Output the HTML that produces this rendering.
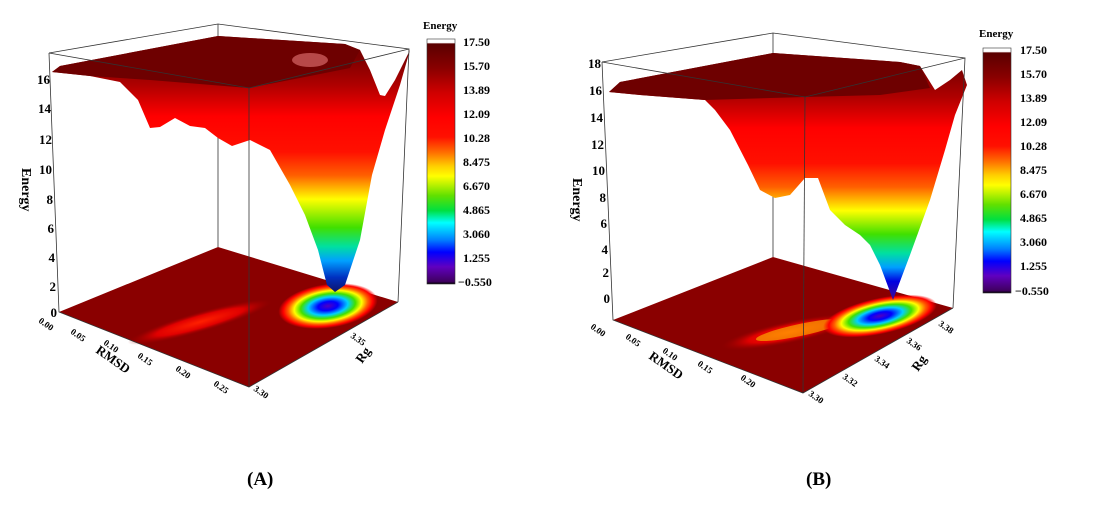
<!DOCTYPE html>
<html><head><meta charset="utf-8"><style>
html,body{margin:0;padding:0;background:#fff;}
svg{display:block;font-family:"Liberation Serif",serif;font-weight:bold;}
</style></head><body>
<svg width="1115" height="512" viewBox="0 0 1115 512" xmlns="http://www.w3.org/2000/svg">
<defs>
<linearGradient id="cb" x1="0" y1="0" x2="0" y2="1">
<stop offset="0" stop-color="#ffffff"/><stop offset="0.015" stop-color="#ffffff"/>
<stop offset="0.02" stop-color="#5a0000"/><stop offset="0.12" stop-color="#8a0000"/>
<stop offset="0.22" stop-color="#d00000"/><stop offset="0.32" stop-color="#ff0000"/>
<stop offset="0.4" stop-color="#ff1000"/><stop offset="0.46" stop-color="#ff6a00"/>
<stop offset="0.52" stop-color="#ffd000"/><stop offset="0.56" stop-color="#ffff00"/>
<stop offset="0.64" stop-color="#60e000"/><stop offset="0.7" stop-color="#00e040"/>
<stop offset="0.75" stop-color="#00ffff"/><stop offset="0.82" stop-color="#0080ff"/>
<stop offset="0.87" stop-color="#0000ff"/><stop offset="0.93" stop-color="#6000c0"/>
<stop offset="0.99" stop-color="#400060"/><stop offset="1" stop-color="#000"/>
</linearGradient>
<linearGradient id="sa" gradientUnits="userSpaceOnUse" x1="0" y1="57" x2="0" y2="294">
<stop offset="0" stop-color="#7a0000"/><stop offset="0.12" stop-color="#b00000"/>
<stop offset="0.25" stop-color="#ff0000"/><stop offset="0.4" stop-color="#ff1000"/>
<stop offset="0.5" stop-color="#ff6000"/><stop offset="0.6" stop-color="#ffff00"/>
<stop offset="0.72" stop-color="#40e000"/><stop offset="0.8" stop-color="#00e0a0"/>
<stop offset="0.86" stop-color="#00a0ff"/><stop offset="0.93" stop-color="#0030c0"/>
<stop offset="1" stop-color="#101060"/>
</linearGradient>
<linearGradient id="sb" gradientUnits="userSpaceOnUse" x1="0" y1="69" x2="0" y2="305">
<stop offset="0" stop-color="#7a0000"/><stop offset="0.12" stop-color="#b00000"/>
<stop offset="0.25" stop-color="#ff0000"/><stop offset="0.4" stop-color="#ff1000"/>
<stop offset="0.5" stop-color="#ff6000"/><stop offset="0.6" stop-color="#ffff00"/>
<stop offset="0.7" stop-color="#40e000"/><stop offset="0.78" stop-color="#00e0a0"/>
<stop offset="0.84" stop-color="#00a0ff"/><stop offset="0.9" stop-color="#0000e0"/>
<stop offset="1" stop-color="#501080"/>
</linearGradient>
<radialGradient id="ca" cx="0.5" cy="0.5" r="0.5">
<stop offset="0" stop-color="#5000c0"/><stop offset="0.2" stop-color="#0000ff"/>
<stop offset="0.4" stop-color="#00d0ff"/><stop offset="0.55" stop-color="#40e000"/>
<stop offset="0.68" stop-color="#ffff00"/><stop offset="0.8" stop-color="#ff6000"/>
<stop offset="0.9" stop-color="#ff0000"/>
<stop offset="1" stop-color="#ff0000" stop-opacity="0"/>
</radialGradient>
<radialGradient id="red" cx="0.5" cy="0.5" r="0.5">
<stop offset="0" stop-color="#ff2000"/><stop offset="0.6" stop-color="#e00000"/>
<stop offset="1" stop-color="#9a0000" stop-opacity="0"/>
</radialGradient>
</defs>

<!-- ===== Panel A ===== -->
<g stroke="#333" stroke-width="0.8" fill="none">
<polyline points="49,53 218,24 409,49"/>
<line x1="218" y1="24" x2="218" y2="247"/>
</g>
<polygon points="59,312 218,247 398,302 249,387" fill="#8a0000"/>
<ellipse cx="200" cy="322" rx="75" ry="10" fill="url(#red)" transform="rotate(-16 200 322)"/>
<ellipse cx="328" cy="306" rx="50" ry="22" fill="url(#ca)" transform="rotate(-8 328 306)"/>
<polygon points="52,72 60,66 218,36 345,44 360,50 370,70 380,95 385,96 395,80 410,50 400,85 385,130 372,175 360,240 345,285 335,292 327,285 318,250 305,215 290,185 270,150 250,140 232,146 218,138 205,128 190,126 175,118 160,127 150,128 138,100 120,82 90,76"
 fill="url(#sa)"/>
<polygon points="52,72 60,66 218,36 345,44 360,50 350,68 320,74 249,88 150,80 90,76" fill="#6e0000"/>
<ellipse cx="310" cy="60" rx="18" ry="7" fill="#ff9090" opacity="0.5"/>
<g stroke="#333" stroke-width="0.8" fill="none">
<polyline points="49,53 249,88 409,49 398,302"/>
<line x1="249" y1="88" x2="249" y2="387"/>
<polyline points="49,53 59,312 249,387 398,302"/>
</g>
<g font-size="13" text-anchor="end" fill="#000">
<text x="50" y="84">16</text><text x="51" y="113">14</text><text x="52" y="144">12</text>
<text x="52" y="174">10</text><text x="53" y="204">8</text><text x="54" y="233">6</text>
<text x="55" y="262">4</text><text x="56" y="291">2</text><text x="57" y="317">0</text>
</g>
<text x="0" y="0" font-size="14" transform="translate(22,168) rotate(90)">Energy</text>
<g font-size="9" fill="#000">
<text transform="translate(38,322) rotate(35)">0.00</text>
<text transform="translate(70,333) rotate(35)">0.05</text>
<text transform="translate(103,344) rotate(35)">0.10</text>
<text transform="translate(137,357) rotate(35)">0.15</text>
<text transform="translate(175,370) rotate(35)">0.20</text>
<text transform="translate(213,385) rotate(35)">0.25</text>
<text transform="translate(253,390) rotate(35)">3.30</text>
<text transform="translate(350,337) rotate(35)">3.35</text>
</g>
<text font-size="13" transform="translate(95,352) rotate(35)">RMSD</text>
<text font-size="13" transform="translate(362,364) rotate(-55)">Rg</text>
<text x="423" y="29" font-size="11">Energy</text>
<rect x="427" y="39" width="28" height="245" fill="url(#cb)" stroke="#333" stroke-width="0.6"/>
<g font-size="12" fill="#000">
<text x="463" y="46">17.50</text><text x="463" y="70">15.70</text><text x="463" y="94">13.89</text>
<text x="463" y="118">12.09</text><text x="463" y="142">10.28</text><text x="463" y="166">8.475</text>
<text x="463" y="190">6.670</text><text x="463" y="214">4.865</text><text x="463" y="238">3.060</text>
<text x="463" y="262">1.255</text><text x="458" y="286">−0.550</text>
</g>
<text x="247" y="485" font-size="19">(A)</text>

<!-- ===== Panel B ===== -->
<g stroke="#333" stroke-width="0.8" fill="none">
<polyline points="602,62 773,33 965,58"/>
<line x1="773" y1="33" x2="773" y2="257"/>
</g>
<polygon points="613,320 773,257 953,308 803,393" fill="#8a0000"/>
<ellipse cx="790" cy="332" rx="70" ry="11" fill="url(#red)" transform="rotate(-12 790 332)"/>
<ellipse cx="800" cy="330" rx="45" ry="6" fill="#ffd000" opacity="0.55" transform="rotate(-12 800 330)"/>
<ellipse cx="880" cy="316" rx="58" ry="18" fill="url(#ca)" transform="rotate(-12 880 316)"/>
<polygon points="609,92 620,82 773,53 900,62 920,66 935,90 950,80 962,70 967,85 955,115 945,150 930,200 910,255 893,300 880,265 870,245 860,235 845,225 830,210 818,178 805,178 790,195 775,198 760,190 748,165 730,130 715,110 705,100 640,95"
 fill="url(#sb)"/>
<polygon points="609,92 620,82 773,53 900,62 920,66 930,88 880,95 805,97 705,100 640,95" fill="#6e0000"/>
<g stroke="#333" stroke-width="0.8" fill="none">
<polyline points="602,62 805,97 965,58 953,308"/>
<line x1="805" y1="97" x2="803" y2="393"/>
<polyline points="602,62 613,320 803,393 953,308"/>
</g>
<g font-size="13" text-anchor="end" fill="#000">
<text x="601" y="68">18</text><text x="602" y="95">16</text><text x="603" y="122">14</text>
<text x="604" y="149">12</text><text x="605" y="175">10</text><text x="606" y="202">8</text>
<text x="607" y="228">6</text><text x="608" y="254">4</text><text x="609" y="277">2</text>
<text x="610" y="303">0</text>
</g>
<text x="0" y="0" font-size="14" transform="translate(573,178) rotate(90)">Energy</text>
<g font-size="9" fill="#000">
<text transform="translate(590,328) rotate(35)">0.00</text>
<text transform="translate(625,338) rotate(35)">0.05</text>
<text transform="translate(662,352) rotate(35)">0.10</text>
<text transform="translate(697,365) rotate(35)">0.15</text>
<text transform="translate(740,379) rotate(35)">0.20</text>
<text transform="translate(808,395) rotate(35)">3.30</text>
<text transform="translate(842,378) rotate(35)">3.32</text>
<text transform="translate(874,360) rotate(35)">3.34</text>
<text transform="translate(906,342) rotate(35)">3.36</text>
<text transform="translate(938,325) rotate(35)">3.38</text>
</g>
<text font-size="13" transform="translate(648,358) rotate(35)">RMSD</text>
<text font-size="13" transform="translate(918,372) rotate(-55)">Rg</text>
<text x="979" y="37" font-size="11">Energy</text>
<rect x="983" y="48" width="28" height="245" fill="url(#cb)" stroke="#333" stroke-width="0.6"/>
<g font-size="12" fill="#000">
<text x="1020" y="54">17.50</text><text x="1020" y="78">15.70</text><text x="1020" y="102">13.89</text>
<text x="1020" y="126">12.09</text><text x="1020" y="150">10.28</text><text x="1020" y="174">8.475</text>
<text x="1020" y="198">6.670</text><text x="1020" y="222">4.865</text><text x="1020" y="246">3.060</text>
<text x="1020" y="270">1.255</text><text x="1015" y="295">−0.550</text>
</g>
<text x="806" y="485" font-size="19">(B)</text>
</svg>
</body></html>
